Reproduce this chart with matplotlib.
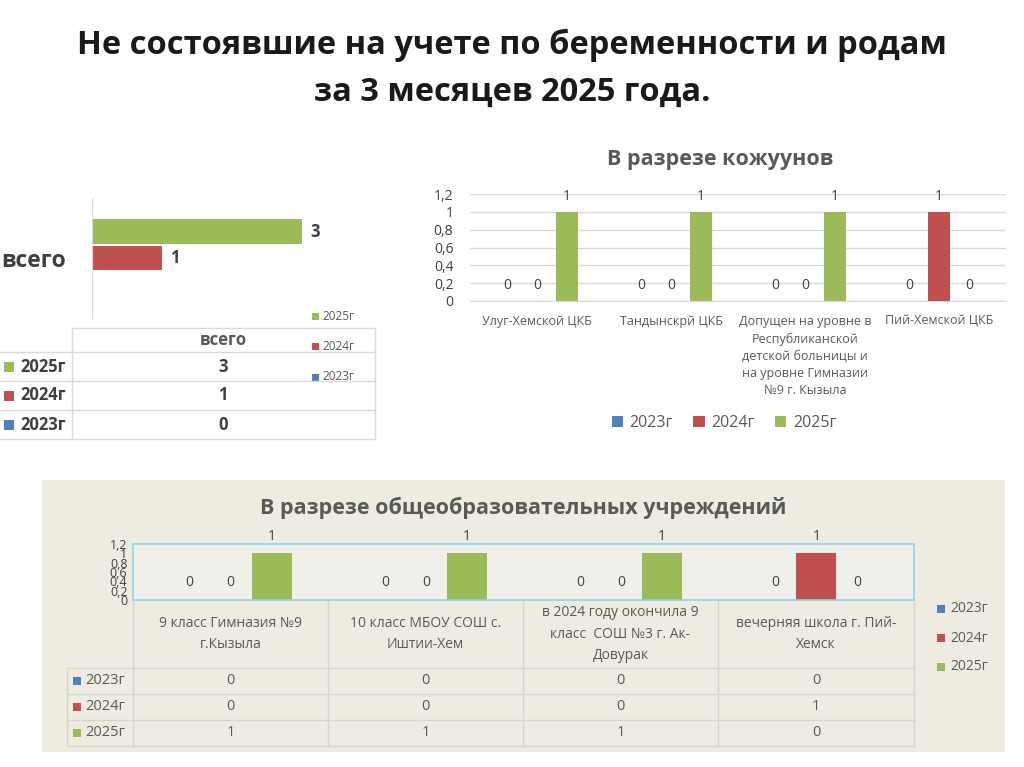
import matplotlib
matplotlib.use('Agg')
import matplotlib.pyplot as plt
from matplotlib.patches import Rectangle
import numpy as np

plt.rcParams['font.family'] = ['Open Sans', 'DejaVu Sans']

# --- data ---
years = ['2023г', '2024г', '2025г']
colors = ['#4F81BD', '#C0504D', '#9BBB59']
total_label = 'всего'
total = [0, 1, 3]

kozhuuns = ['Улуг-Хемской ЦКБ', 'Тандынскрй ЦКБ',
            'Допущен на уровне в\nРеспубликанской\nдетской больницы и\nна уровне Гимназии\n№9 г. Кызыла',
            'Пий-Хемской ЦКБ']
kozh_2023 = [0, 0, 0, 0]
kozh_2024 = [0, 0, 0, 1]
kozh_2025 = [1, 1, 1, 0]

schools = ['9 класс Гимназия №9\nг.Кызыла', '10 класс МБОУ СОШ с.\nИштии-Хем',
           'в 2024 году окончила 9\nкласс  СОШ №3 г. Ак-\nДовурак', 'вечерняя школа г. Пий-\nХемск']
school_2023 = [0, 0, 0, 0]
school_2024 = [0, 0, 0, 1]
school_2025 = [1, 1, 1, 0]

yticks = [0, 0.2, 0.4, 0.6, 0.8, 1, 1.2]
ytick_labels = ['0', '0,2', '0,4', '0,6', '0,8', '1', '1,2']

W, H = 1024, 767
GRAY = '#595959'
DARK = '#404040'


def rect(x0, y0, x1, y1):
    return [x0 / W, 1 - y1 / H, (x1 - x0) / W, (y1 - y0) / H]


fig = plt.figure(figsize=(W / 100, H / 100), dpi=100)

# overlay in pixel coords for tables / panel / legends
ov = fig.add_axes([0, 0, 1, 1], zorder=0)
ov.set_xlim(0, W)
ov.set_ylim(H, 0)
ov.axis('off')
ov.add_patch(Rectangle((42, 480), 963, 272, fc='#EEECE1', ec='none'))

fig.text(0.5, 1 - 45 / H, 'Не состоявшие на учете по беременности и родам',
         ha='center', va='center', fontsize=23.5, weight='bold', color='#1a1a1a')
fig.text(0.5, 1 - 92 / H, 'за 3 месяцев 2025 года.',
         ha='center', va='center', fontsize=23.5, weight='bold', color='#1a1a1a')

# ---------- left: total bars ----------
ax1 = fig.add_axes(rect(92, 198, 375, 318), zorder=2)
ax1.patch.set_alpha(0)
offs = [-0.217, 0, 0.217]
for i in range(3):
    ax1.barh(offs[i], total[i], height=0.208, color=colors[i])
    if total[i]:
        ax1.text(total[i] + 0.12, offs[i], str(total[i]), va='center', ha='left',
                 fontsize=12, weight='bold', color=DARK)
ax1.set_xlim(0, 283 / 70)
ax1.set_ylim(-0.5, 0.5)
ax1.set_xticks([])
ax1.set_yticks([0])
ax1.set_yticklabels([total_label], fontsize=16.5, weight='bold', color=DARK)
ax1.tick_params(axis='y', length=0, pad=19)
for s in ['top', 'right', 'bottom']:
    ax1.spines[s].set_visible(False)
ax1.spines['left'].set_color('#d9d9d9')

# small legend
for i, k in enumerate([2, 1, 0]):
    y = 316 + 30.5 * i
    ov.add_patch(Rectangle((312, y - 3.5), 7, 7, fc=colors[k], ec='none'))
    ov.text(322, y, years[k], va='center', ha='left', fontsize=8.5, color=GRAY)

# table under left chart
lc = '#d9d9d9'
ov.plot([72, 375], [328, 328], color=lc, lw=1)
for y in [352, 381, 410, 439]:
    ov.plot([0, 375], [y, y], color=lc, lw=1)
ov.plot([72, 72], [328, 439], color=lc, lw=1)
ov.plot([375, 375], [328, 439], color=lc, lw=1)
ov.text(223, 340, total_label, ha='center', va='center', fontsize=12, weight='bold', color=GRAY)
for i, k in enumerate([2, 1, 0]):
    y = 366.5 + 29 * i
    ov.add_patch(Rectangle((4, y - 5), 10, 10, fc=colors[k], ec='none'))
    ov.text(20, y, years[k], va='center', ha='left', fontsize=12, weight='bold', color=DARK)
    ov.text(223, y, str(total[k]), va='center', ha='center', fontsize=12, weight='bold', color=DARK)

# ---------- right: kozhuuns ----------
ax2 = fig.add_axes(rect(470, 194, 1006, 301), zorder=2)
ax2.patch.set_alpha(0)
x = np.arange(len(kozhuuns))
bw, off = 0.164, 0.224
for i, vals in enumerate([kozh_2023, kozh_2024, kozh_2025]):
    bars = ax2.bar(x + (i - 1) * off, vals, width=bw, color=colors[i], label=years[i], zorder=3)
    ax2.bar_label(bars, padding=6, fontsize=10, color=DARK)
ax2.set_xlim(-0.5, 3.5)
ax2.set_ylim(0, 1.2)
ax2.set_yticks(yticks)
ax2.set_yticklabels(ytick_labels, fontsize=10, color=DARK)
ax2.yaxis.grid(True, color='#d9d9d9', lw=1)
ax2.set_axisbelow(True)
ax2.set_xticks(x)
ax2.set_xticklabels(kozhuuns, fontsize=9, color=GRAY, va='top', linespacing=1.42)
ax2.tick_params(length=0)
ax2.tick_params(axis='y', pad=12)
ax2.tick_params(axis='x', pad=10)
for s in ['top', 'right', 'left']:
    ax2.spines[s].set_visible(False)
ax2.spines['bottom'].set_color('#d9d9d9')
fig.text(720 / W, 1 - 160 / H, 'В разрезе кожуунов', ha='center', va='center',
         fontsize=15.5, weight='bold', color=GRAY)
ax2.legend(loc='center', bbox_to_anchor=(724 / W, 1 - 423 / H), bbox_transform=fig.transFigure,
           ncol=3, frameon=False, fontsize=11.5, handlelength=0.7, handleheight=0.7,
           columnspacing=1.3, handletextpad=0.4, labelcolor=GRAY)

# ---------- bottom: schools ----------
ax3 = fig.add_axes(rect(133, 544, 914, 600), zorder=2)
ax3.set_facecolor('#F0EFEA')
bw3, off3 = 0.205, 0.21
for i, vals in enumerate([school_2023, school_2024, school_2025]):
    bars = ax3.bar(x + (i - 1) * off3, vals, width=bw3, color=colors[i])
    lab = ax3.bar_label(bars, padding=7, fontsize=10, color=DARK)
    for t in lab:
        t.set_clip_on(False)
ax3.set_xlim(-0.5, 3.5)
ax3.set_ylim(0, 1.2)
ax3.set_yticks(yticks)
ax3.set_yticklabels(ytick_labels, fontsize=9, color=DARK)
ax3.set_xticks([])
ax3.tick_params(length=0, pad=4)
for s in ax3.spines.values():
    s.set_color('#8ed3ea')
    s.set_linewidth(1.2)
fig.text(523 / W, 1 - 508 / H, 'В разрезе общеобразовательных учреждений', ha='center', va='center',
         fontsize=15.5, weight='bold', color=GRAY)

tl = '#d6d4cc'
cols = [133, 328, 523, 718, 914]
for cx in cols:
    ov.plot([cx, cx], [600, 746], color=tl, lw=1)
ov.plot([67, 67], [668, 746], color=tl, lw=1)
for y in [668, 694, 720, 746]:
    ov.plot([67, 914], [y, y], color=tl, lw=1)
for j, name in enumerate(schools):
    cx = (cols[j] + cols[j + 1]) / 2
    ov.text(cx, 634, name, ha='center', va='center', fontsize=10, color=GRAY,
            linespacing=1.55, zorder=3)
for i, vals in enumerate([school_2023, school_2024, school_2025]):
    y = 681 + 26 * i
    ov.add_patch(Rectangle((73, y - 4), 8, 8, fc=colors[i], ec='none'))
    ov.text(85, y, years[i], va='center', ha='left', fontsize=10.5, color=GRAY)
    for j, v in enumerate(vals):
        ov.text((cols[j] + cols[j + 1]) / 2, y, str(v), ha='center', va='center',
                fontsize=10.5, color=GRAY)

for i in range(3):
    y = 609 + 29 * i
    ov.add_patch(Rectangle((937, y - 4), 8, 8, fc=colors[i], ec='none'))
    ov.text(950, y, years[i], va='center', ha='left', fontsize=10, color=GRAY)

fig.savefig('out.png', dpi=100)
